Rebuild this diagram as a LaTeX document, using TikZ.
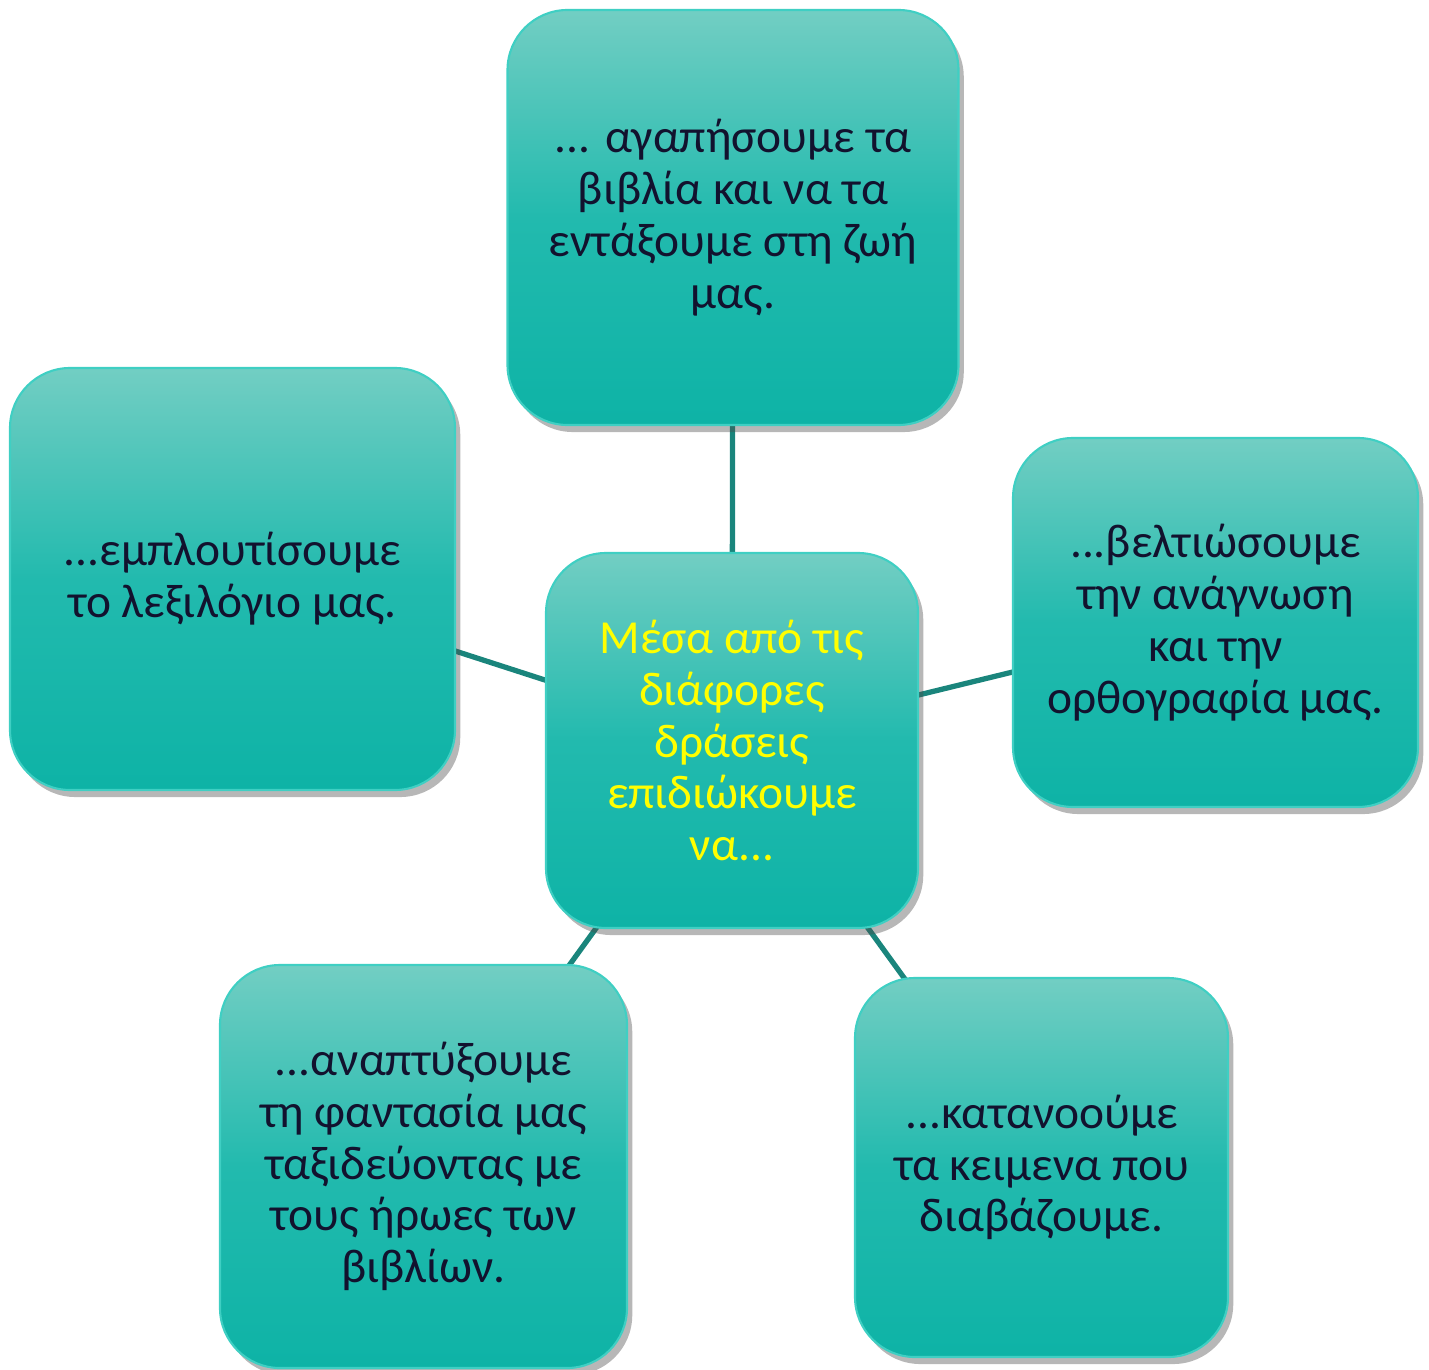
\documentclass[tikz,border=0pt]{standalone}
\usepackage{fontspec}
\setmainfont{Carlito}
\usetikzlibrary{shadows,backgrounds}
\definecolor{boxtop}{HTML}{72CEC3}
\definecolor{boxmid}{HTML}{22BAAE}
\definecolor{boxbot}{HTML}{0EB3A6}
\definecolor{boxedge}{HTML}{3FCFC3}
\definecolor{linkcol}{HTML}{1A857C}
\definecolor{txtdark}{HTML}{12122E}
\definecolor{txtyellow}{HTML}{FFFF00}
\tikzset{
  card/.style={rectangle, rounded corners=1.2cm, draw=boxedge, line width=1.2pt,
    top color=boxtop, bottom color=boxbot, middle color=boxmid,
    drop shadow={shadow xshift=3pt, shadow yshift=-4pt, opacity=0.4, fill=black!70},
    align=center, text=txtdark, font=\fontsize{27}{29.5}\selectfont, inner sep=0pt},
  link/.style={draw=linkcol, line width=3pt}
}
\begin{document}
\begin{tikzpicture}
\useasboundingbox (0,0) rectangle (28.58,-27.4);
\node[card, minimum width=9.02cm, minimum height=8.3cm] (top) at (14.66,-4.35)
  {... αγαπήσουμε τα\\βιβλία και να τα\\εντάξουμε στη ζωή\\μας.};
\node[card, minimum width=8.9cm, minimum height=8.44cm] (left) at (4.65,-11.58)
  {...εμπλουτίσουμε\\το λεξιλόγιο μας.};
\node[card, minimum width=8.1cm, minimum height=7.38cm] (right) at (24.31,-12.45)
  {...βελτιώσουμε\\την ανάγνωση\\και την\\ορθογραφία μας.};
\node[card, minimum width=7.44cm, minimum height=7.5cm, text=txtyellow] (center) at (14.64,-14.81)
  {Μέσα από τις\\διάφορες\\δράσεις\\επιδιώκουμε\\να...};
\node[card, minimum width=8.14cm, minimum height=8.06cm] (bl) at (8.47,-23.33)
  {...αναπτύξουμε\\τη φαντασία μας\\ταξιδεύοντας με\\τους ήρωες των\\βιβλίων.};
\node[card, minimum width=7.46cm, minimum height=7.58cm] (br) at (20.83,-23.35)
  {...κατανοούμε\\τα κειμενα που\\διαβάζουμε.};
\begin{scope}[on background layer]
\draw[link] (center.center) -- (top.center);
\draw[link] (center.center) -- (left.center);
\draw[link] (center.center) -- (right.center);
\draw[link] (center.center) -- (bl.center);
\draw[link] (center.center) -- (br.center);
\end{scope}
\end{tikzpicture}
\end{document}
